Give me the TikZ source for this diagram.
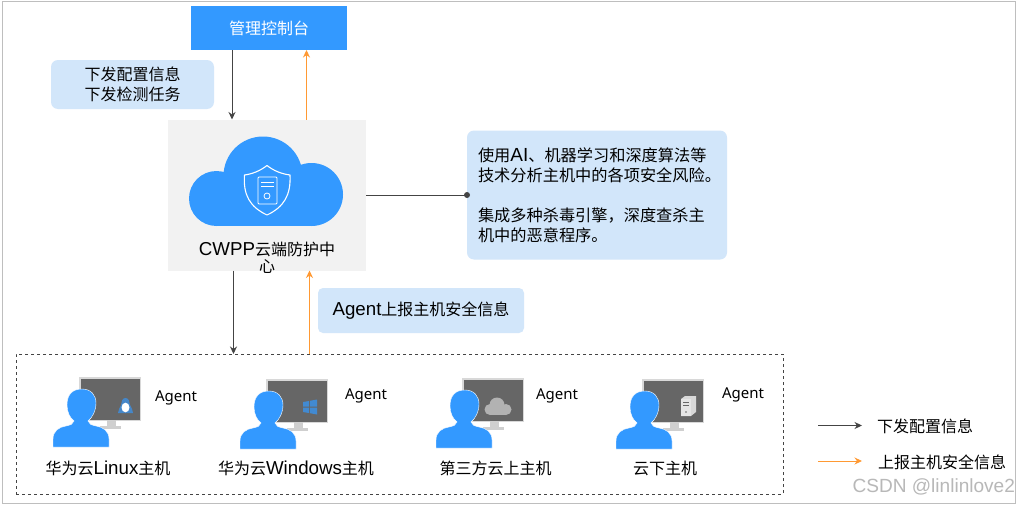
\documentclass[tikz,border=0pt]{standalone}
\usepackage{fontspec}
\setmainfont{Liberation Sans}[Scale=1.17]
\newfontfamily\cjk{Noto Sans CJK SC}
\newfontfamily\agentfont{Noto Sans}
\usetikzlibrary{arrows.meta}
\definecolor{hwblue}{HTML}{3399FF}
\definecolor{lightblue}{HTML}{D2E6FA}
\definecolor{panelgray}{HTML}{F2F2F2}
\definecolor{darkline}{HTML}{444444}
\definecolor{orangeline}{HTML}{FF9933}
\definecolor{screen}{HTML}{666666}
\definecolor{bezel}{HTML}{D8D8D8}
\definecolor{stand}{HTML}{CFCFCF}
\definecolor{framegray}{HTML}{BEBEBE}
\newcommand{\txt}{\fontsize{16}{20}\selectfont\cjk}
\tikzset{
  x=1pt,y=-1pt,
  every node/.style={inner sep=0pt,outer sep=0pt,text=black},
  notebox/.style={fill=lightblue,rounded corners=7pt},
  downarrow/.style={draw=darkline,line width=1pt,-{Stealth[length=7.5pt,width=7pt]}},
  uparrow/.style={draw=orangeline,line width=1pt,-{Stealth[length=7.5pt,width=7pt]}},
  caption/.style={font=\txt},
  agentlabel/.style={font=\fontsize{15}{18}\selectfont\agentfont},
  hostbase/.pic={
    \fill[bezel] (26,-12) rectangle (88,32);
    \fill[screen] (27.5,-10.5) rectangle (86.5,30.5);
    \fill[stand] (54,31) rectangle (63,37);
    \fill[stand] (47,36.5) rectangle (68,39.5);
    \fill[hwblue,draw=white,line width=0.4pt] (0,58) -- (0,50)
      .. controls (0,42) and (6,38) .. (13,37) .. controls (18,36) and (20,35) .. (21,32)
      .. controls (17,29) and (14,23) .. (14,16)
      .. controls (14,5) and (20,0) .. (29,0)
      .. controls (38,0) and (43,6) .. (43,14)
      .. controls (43,22) and (39,29) .. (35,32)
      .. controls (36,35) and (38,36) .. (43,37)
      .. controls (50,38) and (56,42) .. (56,50) -- (56,58) -- cycle;
  }
}
\begin{document}
\begin{tikzpicture}
\useasboundingbox (0,0) rectangle (1018,506);
\fill[white] (0,0) rectangle (1018,506);
\node[draw=framegray,line width=0.8pt,minimum width=1013pt,minimum height=502pt] (frame) at (508.5,252) {};

% panels
\node[fill=hwblue,minimum width=156pt,minimum height=44pt,font=\txt] (console) at (269,28) {\textcolor{white}{管理控制台}};
\node[fill=panelgray,minimum width=198pt,minimum height=151pt] (center) at (267,195) {};
\node[notebox,minimum width=163pt,minimum height=49pt,align=center,font=\txt] (issue) at (132.5,84.5) {下发配置信息\\下发检测任务};
\node[notebox,minimum width=260pt,minimum height=129pt] (analysis) at (597,195) {};
\node[font=\fontsize{16.2}{20}\selectfont\cjk,align=left,anchor=west] (analysistext) at (478,195) {使用{\rmfamily AI}、机器学习和深度算法等\\技术分析主机中的各项安全风险。\\[20pt]集成多种杀毒引擎，深度查杀主\\机中的恶意程序。};
\node[notebox,rounded corners=5pt,minimum width=206pt,minimum height=45pt,font=\txt] (report) at (421,310.5) {{\rmfamily Agent}上报主机安全信息};
\node[draw=darkline,dashed,line width=0.7pt,minimum width=767pt,minimum height=140pt] (hosts) at (399.5,424) {};

% cloud
\fill[hwblue] (263,176) circle (39.5) (216.5,198.5) circle (27.5) (311.5,194.5) circle (31.5);
\fill[hwblue] (216.5,190) rectangle (311.5,226);
% shield
\draw[white,line width=1.1pt,line join=round] (267,165.5) .. controls (274,171) and (282,174) .. (290,175)
  .. controls (291,195) and (284,207) .. (267,215) .. controls (250,207) and (243,195) .. (244.5,175)
  .. controls (252,174) and (260,171) .. (267,165.5) -- cycle;
\draw[white,line width=0.9pt,rounded corners=1pt] (258,177) rectangle (277,204);
\draw[white,line width=0.8pt] (261,182) -- (274,182) (261,186) -- (274,186);
\draw[white,line width=0.8pt] (267,196) circle (3);
\node[align=center,font=\fontsize{16}{17}\selectfont\cjk] (centerlabel) at (267,257.5) {{\rmfamily CWPP}云端防护中\\心};

% connectors
\coordinate (d1) at (232,0);
\coordinate (u1) at (306.5,0);
\coordinate (d2) at (233.5,0);
\coordinate (u2) at (309.5,0);
\draw[downarrow] (console.south -| d1) -- (center.north -| d1);
\draw[uparrow] (center.north -| u1) -- (console.south -| u1);
\draw[downarrow] (center.south -| d2) -- (hosts.north -| d2);
\draw[uparrow] (hosts.north -| u2) -- (center.south -| u2);
\draw[draw=darkline,line width=1pt] (center.east) -- (analysis.west);
\fill[darkline] (analysis.west) circle (3);

% hosts
\pic at (53,389) {hostbase};
\pic at (240,391) {hostbase};
\pic at (436,390) {hostbase};
\pic at (616,391) {hostbase};

% linux icon
\fill[hwblue!65!screen] (125.5,398) .. controls (129,398) and (129.5,402) .. (130,405) .. controls (131.5,408) and (133,410) .. (133,413) -- (118,413) .. controls (118,410) and (120,408) .. (121,405) .. controls (121.5,402) and (122,398) .. (125.5,398) -- cycle;
\fill[white] (125.5,407.5) ellipse (4 and 4.8);
% windows icon
\fill[hwblue!70!screen] (303,402) -- (309,401) -- (309,406.5) -- (303,406.5) -- cycle
  (310,400.8) -- (317,399.5) -- (317,406.5) -- (310,406.5) -- cycle
  (303,407.5) -- (309,407.5) -- (309,413) -- (303,412) -- cycle
  (310,407.5) -- (317,407.5) -- (317,414.5) -- (310,413.2) -- cycle;
% third-party cloud icon
\fill[white!70!black] (497,405) circle (7.5) (490,409.5) circle (5.5) (506,409.5) circle (5.5);
\fill[white!70!black] (490,407) rectangle (506,415);
% server icon
\fill[bezel] (681,399) -- (685,396) -- (696,396) -- (696,412) -- (691,416) -- (681,416) -- cycle;
\fill[white!90!black] (681,399) -- (691,399) -- (691,416) -- (681,416) -- cycle;
\draw[screen,line width=0.5pt] (683,402) -- (689,402) (683,405) -- (689,405);
\fill[screen] (686,412) circle (0.8);

% host labels
\node[caption] (h1) at (108,468) {华为云{\rmfamily Linux}主机};
\node[caption] (h2) at (296,468) {华为云{\rmfamily Windows}主机};
\node[caption] (h3) at (495.5,468) {第三方云上主机};
\node[caption] (h4) at (665,468) {云下主机};
\node[agentlabel] (a1) at (176,398) {Agent};
\node[agentlabel] (a2) at (366,396) {Agent};
\node[agentlabel] (a3) at (557,396) {Agent};
\node[agentlabel] (a4) at (743,395) {Agent};

% legend
\coordinate (l1s) at (818,425.5);
\coordinate (l1e) at (862,425.5);
\coordinate (l2s) at (818,461);
\coordinate (l2e) at (862,461);
\draw[downarrow] (l1s) -- (l1e);
\draw[uparrow] (l2s) -- (l2e);
\node[caption,anchor=west] (leg1) at (877,426) {下发配置信息};
\node[caption,anchor=west] (leg2) at (878,462) {上报主机安全信息};
\node[font=\fontsize{16.3}{20}\selectfont,text=black!28,anchor=east] (wm) at (1015,487) {CSDN @linlinlove2};
\end{tikzpicture}
\end{document}
